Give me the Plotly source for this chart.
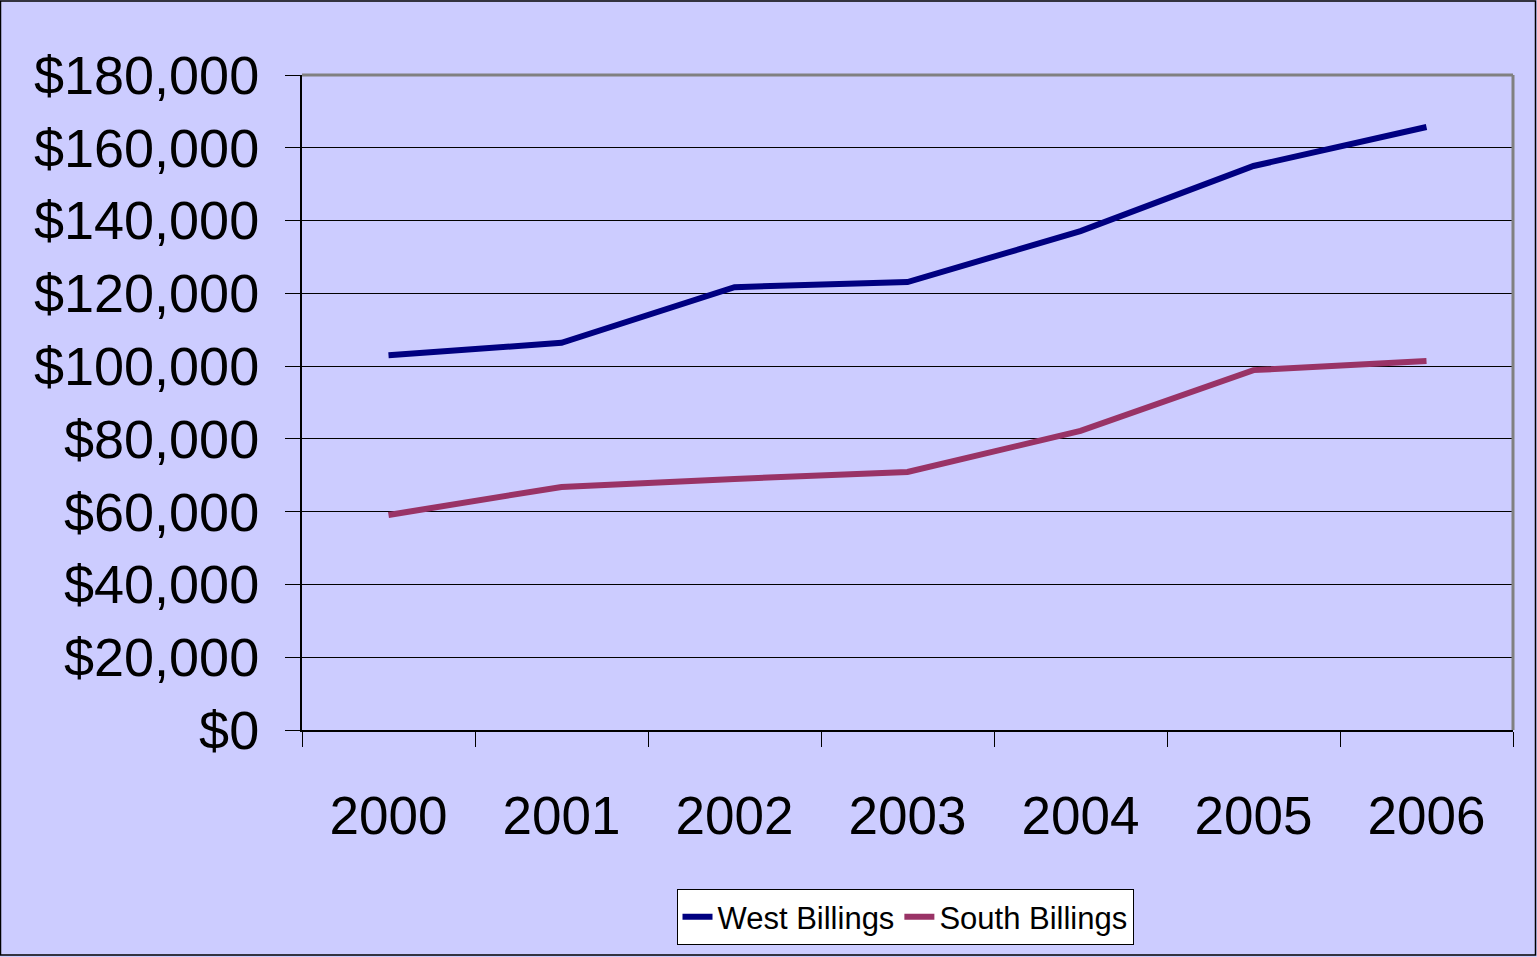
import plotly.graph_objects as go

years = ["2000", "2001", "2002", "2003", "2004", "2005", "2006"]
west_billings = [103000, 106400, 121700, 123100, 137100, 155000, 165700]
south_billings = [59100, 66800, 69000, 70900, 82200, 98900, 101400]
y_ticks = [0, 20000, 40000, 60000, 80000, 100000, 120000, 140000, 160000, 180000]
y_tick_text = ["$" + format(v, ",") for v in y_ticks]

W, H = 1537, 957
L, R, T, B = 302, 24, 75, 227
pw, ph = W - L - R, H - T - B

fig = go.Figure()
fig.add_trace(go.Scatter(x=years, y=west_billings, mode="lines", name="West Billings",
                         line=dict(color="#000080", width=6)))
fig.add_trace(go.Scatter(x=years, y=south_billings, mode="lines", name="South Billings",
                         line=dict(color="#993366", width=6)))

font = "Liberation Sans, Arial, sans-serif"
fig.update_layout(
    width=W, height=H,
    margin=dict(l=L, r=R, t=T, b=B, autoexpand=False),
    paper_bgcolor="#CCCCFF", plot_bgcolor="#CCCCFF",
    font=dict(family=font, color="black"),
    showlegend=True,
    legend=dict(orientation="h", x=(905 - L) / pw, xanchor="center",
                y=(T + ph - 917) / ph, yanchor="middle",
                bgcolor="white", bordercolor="black", borderwidth=1,
                font=dict(size=31, family=font), itemwidth=30),
    xaxis=dict(type="category", range=[-0.5, 6.5], showgrid=False,
               showline=True, linecolor="black", linewidth=2,
               ticks="outside", tickson="boundaries", ticklen=15, tickcolor="black", tickwidth=1,
               tickfont=dict(size=53), ticklabelstandoff=38, fixedrange=True),
    yaxis=dict(range=[0, 180000], tickvals=y_ticks, ticktext=y_tick_text,
               showgrid=True, gridcolor="black", gridwidth=1,
               showline=True, linecolor="black", linewidth=2,
               ticks="outside", ticklen=15, tickcolor="black", tickwidth=1,
               tickfont=dict(size=54), ticklabelstandoff=15, zeroline=False, fixedrange=True),
    shapes=[
        dict(type="line", xref="paper", yref="paper", x0=0, x1=1, y0=1, y1=1,
             line=dict(color="#808080", width=3)),
        dict(type="line", xref="paper", yref="paper", x0=1, x1=1, y0=0, y1=1,
             line=dict(color="#808080", width=3)),
        dict(type="rect", xref="paper", yref="paper",
             x0=(0.5 - L) / pw, x1=(W - 1.5 - L) / pw,
             y0=-(H - 2 - T - ph) / ph, y1=1 + (T - 1) / ph,
             line=dict(color="black", width=1.5)),
    ],
)

fig.write_html("out.html", config={"displayModeBar": False},
               post_script="document.body.style.margin='0';document.body.style.overflow='hidden';")
